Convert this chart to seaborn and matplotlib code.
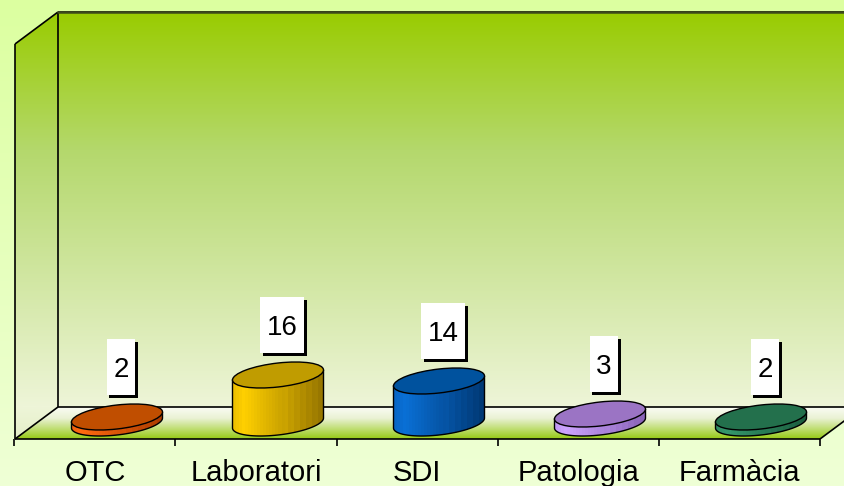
import numpy as np
import pandas as pd
import matplotlib
matplotlib.use("Agg")
import matplotlib.pyplot as plt
import matplotlib.transforms as mtransforms
from matplotlib.patches import Polygon, Ellipse, Rectangle
from matplotlib.colors import to_rgb
import seaborn as sns

# données
categories = ["OTC", "Laboratori", "SDI", "Patologia", "Farmàcia"]
values = [2, 16, 14, 3, 2]
side_light = ["#ff6a10", "#ffd000", "#0a70d6", "#cda4ff", "#36986c"]
side_dark = ["#a83a00", "#927200", "#003670", "#8660b4", "#1a5a3c"]
top_colors = ["#c04e00", "#c09c00", "#00529e", "#9b74c4", "#23704c"]

# géométrie en pixels (figure 845x486)
W, H = 845, 486
X0, DX = 117, 161        # centre du premier cylindre, pas entre catégories
Y0, SY = 423, 3          # base des cylindres, pixels par unité
FRONT = 22               # décalage de la face avant (perspective)
BAR_W = 91 / DX
ELL_H = 24 / SY
TILT = 0.11

sns.set_style("white")
plt.rcParams["font.family"] = ["Liberation Sans", "DejaVu Sans"]

fig = plt.figure(figsize=(W / 100, H / 100), dpi=100)

# --- décor : fond, murs et sol, en coordonnées pixel ---
bg = fig.add_axes([0, 0, 1, 1])
bg.set_xlim(0, W)
bg.set_ylim(H, 0)
bg.axis("off")


def vgrad(stops, n=256):
    # stops : liste de (position, couleur)
    t = np.linspace(0, 1, n)
    pos = [s[0] for s in stops]
    cols = np.array([to_rgb(s[1]) for s in stops])
    rgb = np.stack([np.interp(t, pos, cols[:, k]) for k in range(3)], axis=1)
    return rgb[:, None, :]


bg.imshow(vgrad([(0, "#dcffa0"), (1, "#efffd6")]), extent=(0, W, H, 0),
          aspect="auto", zorder=0)

back_wall = Polygon([(58, 12), (W + 5, 12), (W + 5, 407), (58, 407)], closed=True,
                    facecolor="none", edgecolor="none")
side_wall = Polygon([(15, 44), (58, 12), (58, 407), (15, 439)], closed=True,
                    facecolor="none", edgecolor="none")
floor = Polygon([(15, 439), (820, 439), (863, 407), (58, 407)], closed=True,
                facecolor="none", edgecolor="none")
for p in (back_wall, side_wall, floor):
    bg.add_patch(p)

wall_grad = vgrad([(0, "#99cc00"), (0.35, "#b4d86c"), (1, "#eef5d8")])
for p in (back_wall, side_wall):
    im = bg.imshow(wall_grad, extent=(0, W, 407, 12), aspect="auto", zorder=1)
    im.set_clip_path(p)
im = bg.imshow(vgrad([(0, "#eef5d8"), (1, "#e4efc8")]), extent=(0, W, 439, 407),
               aspect="auto", zorder=1)
im.set_clip_path(side_wall)
im = bg.imshow(vgrad([(0, "#fafcf4"), (0.35, "#eaf2d4"), (1, "#96ca14")]),
               extent=(0, W, 439, 407), aspect="auto", zorder=1)
im.set_clip_path(floor)

edges = [((58, 12), (W, 12)), ((15, 44), (58, 12)), ((15, 44), (15, 439)),
         ((58, 12), (58, 407)), ((58, 407), (W, 407)), ((15, 439), (58, 407)),
         ((15, 439), (820, 439)), ((820, 439), (863, 407))]
for (xa, ya), (xb, yb) in edges:
    bg.plot([xa, xb], [ya, yb], color="black", lw=1.2, solid_capstyle="butt", zorder=2)
bg.plot([58, W], [12, 12], color="#3c4a1c", lw=1.8, zorder=2)

# --- axes des données, aligné sur le décor ---
ax = fig.add_axes([0, 0, 1, 1])
ax.patch.set_alpha(0)

df = pd.DataFrame({"cat": categories, "val": values})
sns.barplot(data=df, x="cat", y="val", hue="cat", palette=side_light,
            width=BAR_W, saturation=1, errorbar=None, legend=False,
            edgecolor="none", ax=ax)

ax.set_xlim(-X0 / DX, (W - X0) / DX)
ax.set_ylim((Y0 - H) / SY, Y0 / SY)
ax.set_autoscale_on(False)
ax.axis("off")

xpix = mtransforms.blended_transform_factory(ax.transData, bg.transData)

# graduations et libellés de l'axe
for k in range(len(categories) + 1):
    xt = k - 0.5 - FRONT / DX
    ax.plot([xt, xt], [439, 446], color="black", lw=1.2, transform=xpix,
            solid_capstyle="butt", clip_on=False)
for i, name in enumerate(categories):
    ax.text(i - FRONT / DX, 481, name, transform=xpix, ha="center",
            va="baseline", fontsize=21, color="black")


def facets(c_light, c_dark, n=30):
    t = (np.arange(n) + 0.5) / n
    f = np.where(t < 0.12, 0.82 + 0.18 * t / 0.12, 1 - (t - 0.12) / 0.88)
    f = f + 0.05 * (np.arange(n) % 2) * (t > 0.55)
    f = np.clip(f, 0, 1)[None, :, None]
    lo, hi = np.array(to_rgb(c_dark)), np.array(to_rgb(c_light))
    return lo + (hi - lo) * f


bars = sorted(ax.patches, key=lambda b: b.get_x())
arc = np.linspace(np.pi, 2 * np.pi, 60)
for i, bar in enumerate(bars):
    x, w, v = bar.get_x(), bar.get_width(), bar.get_height()
    cx = x + w / 2
    cx_disp = ax.transData.transform((cx, 0))[0]
    shear = (mtransforms.Affine2D().translate(-cx_disp, 0)
             .skew(0, np.arctan(TILT)).translate(cx_disp, 0))
    tr = ax.transData + shear
    bar.set_transform(tr)
    bar.set_zorder(3)

    # silhouette du corps : côtés + demi-ellipse inférieure
    body_pts = [(x, v)] + [(cx + w / 2 * np.cos(a), ELL_H / 2 * np.sin(a)) for a in arc] \
        + [(x + w, v)]
    body = Polygon(body_pts, closed=True, transform=tr, facecolor=side_light[i],
                   edgecolor="none", zorder=3.1)
    ax.add_patch(body)
    im = ax.imshow(facets(side_light[i], side_dark[i]),
                   extent=(x, x + w, -2 * ELL_H, v + 2 * ELL_H),
                   aspect="auto", interpolation="nearest", zorder=3.2)
    im.set_clip_path(body)
    ax.add_patch(Polygon(body_pts, closed=True, transform=tr, facecolor="none",
                         edgecolor="black", lw=1.0, zorder=3.3))

    ax.add_patch(Ellipse((cx, v), w, ELL_H, transform=tr, facecolor=top_colors[i],
                         edgecolor="black", lw=1.0, zorder=3.6))

    # étiquette de valeur avec ombre
    label = str(values[i])
    bw, bh = 13 + 15.5 * len(label), 56
    off = mtransforms.ScaledTranslation(cx, v, ax.transData)
    box_tr = mtransforms.Affine2D().translate(4, 50) + off
    ax.add_patch(Rectangle((-bw / 2 + 2.5, -bh / 2 - 2.5), bw, bh, transform=box_tr,
                           facecolor="black", edgecolor="none", zorder=4))
    ax.add_patch(Rectangle((-bw / 2, -bh / 2), bw, bh, transform=box_tr,
                           facecolor="white", edgecolor="none", zorder=4.1))
    ax.annotate(label, xy=(cx, v), xytext=(4, 40), textcoords="offset pixels",
                ha="center", va="baseline", fontsize=20, color="black", zorder=4.2)

fig.savefig("out.png", dpi=100)
